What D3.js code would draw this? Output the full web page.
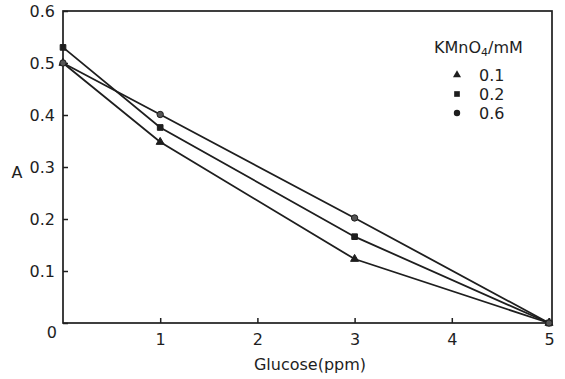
<!DOCTYPE html>
<html>
<head>
<meta charset="utf-8">
<script src="https://cdn.jsdelivr.net/npm/d3@7"></script>
<style>
  body { margin: 0; background: #fff; }
  svg text { font-family: "DejaVu Sans", sans-serif; fill: #1e1e1e; }
</style>
</head>
<body>
<svg id="chart" width="565" height="379"></svg>
<script>
// glucose concentrations (ppm)
var glucose = [0, 1, 3, 5];
// absorbance for each KMnO4 concentration
var conc01 = [0.50, 0.348, 0.123, 0];
var conc02 = [0.53, 0.376, 0.166, 0];
var conc06 = [0.50, 0.401, 0.202, 0];
var seriesNames = ['0.1', '0.2', '0.6'];
var xTicks = [1, 2, 3, 4, 5];
var yTicks = [0, 0.1, 0.2, 0.3, 0.4, 0.5, 0.6];

var svg = d3.select('#chart');
// note: "top" is reserved on window, so use other names
var plotLeft = 63, plotRight = 549, plotTop = 11, plotBottom = 323;
var ink = '#1e1e1e';
var fs = 16;

var x = d3.scaleLinear().domain([0, 5]).range([plotLeft, plotRight]);
var y = d3.scaleLinear().domain([0, 0.6]).range([plotBottom, plotTop]);

// frame
svg.append('rect')
  .attr('x', plotLeft).attr('y', plotTop)
  .attr('width', plotRight + 3 - plotLeft).attr('height', plotBottom - plotTop)
  .attr('fill', 'none').attr('stroke', ink).attr('stroke-width', 1.7);

var yAxis = svg.append('g')
  .attr('transform', 'translate(' + plotLeft + ',0)')
  .call(d3.axisLeft(y).tickValues(yTicks).tickSize(-5).tickPadding(8)
    .tickFormat(function(d) { return d === 0 ? '0' : d3.format('.1f')(d); }));
yAxis.select('.domain').remove();
yAxis.selectAll('line').attr('stroke', ink).attr('stroke-width', 1.5);
yAxis.selectAll('text').attr('font-size', fs).attr('font-family', '"DejaVu Sans", sans-serif').attr('fill', ink);
yAxis.selectAll('.tick').filter(function(d) { return d === 0; })
  .select('text').attr('dy', '0.9em').attr('x', -6);

var xAxis = svg.append('g')
  .attr('transform', 'translate(0,' + plotBottom + ')')
  .call(d3.axisBottom(x).tickValues(xTicks).tickSize(-5).tickPadding(11).tickFormat(d3.format('d')));
xAxis.select('.domain').remove();
xAxis.selectAll('line').attr('stroke', ink).attr('stroke-width', 1.5);
xAxis.selectAll('text').attr('font-size', fs).attr('font-family', '"DejaVu Sans", sans-serif').attr('fill', ink);

// axis titles
svg.append('text').attr('x', 17).attr('y', 178).attr('text-anchor', 'middle')
  .attr('font-size', fs).text('A');
svg.append('text').attr('x', 310).attr('y', 370).attr('text-anchor', 'middle')
  .attr('font-size', fs).text('Glucose(ppm)');

// lines
var line = d3.line().x(function(d, i) { return x(glucose[i]); }).y(function(d) { return y(d); });
var allSeries = [conc01, conc02, conc06];
var symbols = [d3.symbolTriangle, d3.symbolSquare, d3.symbolCircle];
var sizes = [28, 32, 32];

allSeries.forEach(function(s, k) {
  svg.append('path').datum(s).attr('d', line)
    .attr('fill', 'none').attr('stroke', ink).attr('stroke-width', 1.8);
  svg.selectAll('.m' + k).data(s).enter().append('path')
    .attr('class', 'm' + k)
    .attr('transform', function(d, i) { return 'translate(' + x(glucose[i]) + ',' + y(d) + ')'; })
    .attr('d', d3.symbol().type(symbols[k]).size(sizes[k]))
    .attr('fill', k === 2 ? '#555' : ink).attr('stroke', ink).attr('stroke-width', 1);
});

// legend
var lg = svg.append('g');
var title = lg.append('text').attr('x', 434).attr('y', 53).attr('font-size', fs);
title.append('tspan').text('KMnO');
title.append('tspan').attr('font-size', 11).attr('dy', 3).text('4');
title.append('tspan').attr('dy', -3).text('/mM');

seriesNames.forEach(function(n, k) {
  var cy = 75 + k * 19;
  lg.append('path')
    .attr('transform', 'translate(457,' + cy + ')')
    .attr('d', d3.symbol().type(symbols[k]).size(sizes[k]))
    .attr('fill', ink);
  lg.append('text').attr('x', 479).attr('y', cy + 6).attr('font-size', fs).text(n);
});
</script>
</body>
</html>
